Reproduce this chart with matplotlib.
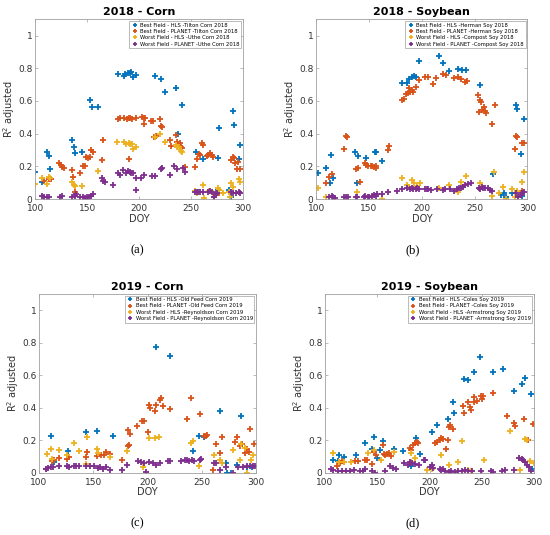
import numpy as np
import matplotlib
matplotlib.use("Agg")
import matplotlib.pyplot as plt

# MATLAB default colours
c_blue = '#0072BD'
c_orange = '#D95319'
c_yellow = '#EDB120'
c_purple = '#7E2F8E'

# ---------------- (a) 2018 - Corn ----------------
a_hls_best_doy = [100, 107, 111, 113, 114, 135, 137, 138, 145, 153, 155, 160, 180, 185, 186, 189,
                  191, 192, 194, 197, 215, 221, 225, 235, 237, 241, 255, 261, 276, 277, 276, 286,
                  288, 290, 291, 296, 297]
a_hls_best_r2 = [0.167, 0.106, 0.29, 0.265, 0.184, 0.36, 0.32, 0.28, 0.29, 0.606, 0.565, 0.565,
                 0.763, 0.753, 0.765, 0.77, 0.773, 0.778, 0.745, 0.76, 0.753, 0.735, 0.655, 0.682,
                 0.40, 0.575, 0.29, 0.243, 0.253, 0.437, 0.055, 0.053, 0.012, 0.54, 0.453, 0.243,
                 0.333]
a_pl_best_doy = [108, 113, 115, 123, 125, 126, 128, 135, 136, 138, 143, 146, 148, 149, 151, 153,
                 154, 156, 164, 165, 180, 182, 185, 188, 190, 191, 193, 190, 197, 203, 205, 206,
                 205, 211, 213, 214, 216, 220, 221, 222, 230, 231, 235, 236, 239, 240, 241, 244,
                 254, 256, 258, 259, 260, 261, 265, 266, 268, 270, 271, 272, 277, 288, 290, 291,
                 292, 294, 295, 297]
a_pl_best_r2 = [0.11, 0.122, 0.122, 0.218, 0.208, 0.198, 0.188, 0.178, 0.137, 0.04, 0.157, 0.204,
                0.204, 0.255, 0.251, 0.255, 0.298, 0.29, 0.239, 0.361, 0.49, 0.494, 0.494, 0.492,
                0.494, 0.494, 0.49, 0.245, 0.498, 0.504, 0.498, 0.498, 0.459, 0.476, 0.48, 0.378,
                0.388, 0.49, 0.449, 0.439, 0.361, 0.327, 0.392, 0.347, 0.345, 0.32, 0.314, 0.198,
                0.194, 0.243, 0.273, 0.269, 0.341, 0.33, 0.263, 0.269, 0.28, 0.269, 0.259, 0.014,
                0.035, 0.239, 0.259, 0.253, 0.218, 0.182, 0.229, 0.182]
a_hls_worst_doy = [100, 107, 111, 113, 114, 135, 137, 138, 145, 160, 179, 185, 187, 190, 191, 193,
                   194, 197, 215, 220, 225, 235, 236, 238, 240, 241, 254, 256, 261, 262, 267, 271,
                   276, 277, 281, 286, 287, 288, 290, 296, 297]
a_hls_worst_r2 = [0.09, 0.127, 0.092, 0.137, 0.131, 0.106, 0.086, 0.08, 0.08, 0.171, 0.351, 0.351,
                  0.335, 0.341, 0.335, 0.337, 0.306, 0.32, 0.382, 0.398, 0.351, 0.331, 0.32, 0.32,
                  0.296, 0.29, 0.051, 0.035, 0.086, 0.004, 0.051, 0.035, 0.065, 0.055, 0.039,
                  0.045, 0.014, 0.1, 0.076, 0.122, 0.106]
a_pl_worst_doy = [107, 108, 111, 113, 124, 126, 135, 138, 139, 143, 146, 148, 150, 152, 154, 156,
                  164, 165, 167, 175, 180, 182, 184, 187, 189, 191, 192, 194, 197, 197, 202, 205,
                  212, 215, 221, 222, 230, 234, 236, 242, 244, 254, 256, 257, 259, 261, 266, 268,
                  270, 272, 274, 275, 288, 290, 293, 296, 297]
a_pl_worst_r2 = [0.02, 0.014, 0.014, 0.01, 0.014, 0.018, 0.014, 0.02, 0.029, 0.014, 0.01, 0.004,
                 0.01, 0.014, 0.018, 0.031, 0.127, 0.112, 0.102, 0.086, 0.161, 0.147, 0.178,
                 0.157, 0.171, 0.167, 0.161, 0.157, 0.055, 0.127, 0.131, 0.147, 0.141, 0.141,
                 0.184, 0.192, 0.147, 0.204, 0.182, 0.192, 0.163, 0.04, 0.04, 0.04, 0.04, 0.04,
                 0.045, 0.049, 0.045, 0.014, 0.03, 0.035, 0.04, 0.035, 0.035, 0.04, 0.035]

# ---------------- (b) 2018 - Soybean ----------------
b_hls_best_doy = [102, 109, 113, 114, 116, 137, 139, 140, 147, 156, 157, 162, 181, 186, 188, 191,
                  193, 194, 197, 216, 220, 226, 234, 238, 242, 255, 267, 275, 278, 280, 285, 289,
                  290, 294, 295, 297]
b_hls_best_r2 = [0.16, 0.19, 0.10, 0.27, 0.13, 0.285, 0.10, 0.265, 0.253, 0.29, 0.285, 0.23,
                 0.708, 0.708, 0.735, 0.749, 0.753, 0.749, 0.847, 0.878, 0.83, 0.784, 0.794, 0.79,
                 0.79, 0.698, 0.153, 0.024, 0.035, 0.01, 0.039, 0.573, 0.553, 0.276, 0.018, 0.488]
b_pl_best_doy = [109, 112, 115, 126, 128, 129, 138, 140, 141, 146, 147, 149, 152, 153, 155, 157,
                 157, 168, 169, 181, 183, 185, 187, 188, 189, 191, 192, 194, 197, 203, 206, 211,
                 213, 220, 223, 230, 234, 237, 241, 243, 253, 254, 255, 256, 257, 259, 260, 261,
                 266, 269, 288, 289, 290, 295, 297, 295]
b_pl_best_r2 = [0.10, 0.133, 0.151, 0.308, 0.386, 0.378, 0.182, 0.188, 0.102, 0.218, 0.208, 0.204,
                0.204, 0.202, 0.198, 0.188, 0.204, 0.30, 0.327, 0.606, 0.612, 0.643, 0.651, 0.678,
                0.657, 0.667, 0.657, 0.688, 0.729, 0.749, 0.749, 0.704, 0.739, 0.765, 0.759,
                0.739, 0.745, 0.735, 0.718, 0.722, 0.637, 0.535, 0.606, 0.592, 0.545, 0.561,
                0.539, 0.524, 0.457, 0.576, 0.306, 0.388, 0.378, 0.341, 0.345, 0.051]
b_hls_worst_doy = [102, 109, 139, 162, 181, 186, 188, 191, 193, 195, 198, 216, 226, 234, 237, 242,
                   255, 266, 268, 273, 277, 280, 285, 288, 290, 295, 297]
b_hls_worst_r2 = [0.069, 0.014, 0.045, 0.0, 0.127, 0.086, 0.076, 0.116, 0.096, 0.08, 0.096, 0.069,
                  0.086, 0.041, 0.102, 0.143, 0.096, 0.018, 0.167, 0.035, 0.071, 0.0, 0.061,
                  0.014, 0.051, 0.102, 0.167]
b_pl_worst_doy = [112, 115, 116, 118, 126, 128, 130, 138, 139, 145, 146, 149, 150, 153, 155, 157,
                  158, 162, 168, 176, 181, 186, 189, 191, 192, 194, 195, 197, 203, 205, 206, 209,
                  214, 220, 222, 227, 230, 233, 235, 237, 239, 241, 244, 247, 254, 255, 257, 258,
                  260, 263, 265, 266, 289, 291, 294, 295, 297]
b_pl_worst_r2 = [0.014, 0.018, 0.01, 0.008, 0.01, 0.01, 0.014, 0.01, 0.014, 0.014, 0.018, 0.01,
                 0.014, 0.02, 0.024, 0.02, 0.029, 0.031, 0.045, 0.051, 0.063, 0.065, 0.059, 0.065,
                 0.061, 0.059, 0.065, 0.059, 0.059, 0.063, 0.059, 0.055, 0.059, 0.055, 0.061,
                 0.063, 0.051, 0.059, 0.065, 0.069, 0.076, 0.086, 0.09, 0.096, 0.069, 0.063,
                 0.071, 0.065, 0.069, 0.069, 0.055, 0.049, 0.035, 0.014, 0.024, 0.035, 0.045]

# ---------------- (c) 2019 - Corn ----------------
c_hls_best_doy = [111, 114, 127, 143, 153, 168, 208, 221, 242, 247, 252, 267, 272, 273, 277, 282,
                  286, 291, 296]
c_hls_best_r2 = [0.228, 0.068, 0.134, 0.249, 0.259, 0.228, 0.774, 0.716, 0.134, 0.228, 0.218,
                 0.38, 0.062, 0.002, 0.002, 0.047, 0.352, 0.037, 0.037]
c_pl_best_doy = [106, 112, 114, 118, 126, 128, 143, 144, 153, 157, 160, 162, 165, 176, 182, 184,
                 182, 183, 190, 195, 197, 200, 201, 202, 207, 208, 211, 212, 214, 221, 236, 240,
                 248, 252, 254, 255, 263, 260, 267, 268, 280, 282, 285, 287, 290, 291, 293, 294,
                 298]
c_pl_best_r2 = [0.023, 0.072, 0.082, 0.093, 0.084, 0.099, 0.099, 0.126, 0.103, 0.109, 0.109,
                0.126, 0.119, 0.082, 0.263, 0.237, 0.165, 0.171, 0.288, 0.321, 0.319, 0.253,
                0.418, 0.397, 0.383, 0.418, 0.449, 0.459, 0.412, 0.393, 0.331, 0.459, 0.36,
                0.226, 0.228, 0.233, 0.177, 0.021, 0.123, 0.222, 0.191, 0.222, 0.167, 0.177,
                0.123, 0.144, 0.13, 0.267, 0.175]
c_hls_worst_doy = [107, 111, 112, 118, 126, 132, 137, 144, 143, 153, 154, 165, 181, 196, 201, 207,
                   210, 240, 242, 247, 261, 267, 268, 279, 285, 286, 290, 291, 295, 297]
c_hls_worst_r2 = [0.115, 0.15, 0.088, 0.14, 0.113, 0.181, 0.136, 0.218, 0.054, 0.15, 0.123, 0.095,
                  0.136, 0.037, 0.216, 0.212, 0.218, 0.185, 0.198, 0.041, 0.113, 0.078, 0.062,
                  0.14, 0.082, 0.177, 0.154, 0.002, 0.078, 0.109]
c_pl_worst_doy = [106, 108, 111, 113, 118, 126, 128, 132, 134, 137, 143, 147, 151, 154, 156, 159,
                  162, 165, 176, 181, 191, 194, 197, 198, 201, 205, 208, 211, 219, 221, 231, 234,
                  236, 238, 241, 243, 248, 249, 261, 263, 267, 272, 279, 283, 288, 291, 294, 297,
                  299]
c_pl_worst_r2 = [0.023, 0.031, 0.035, 0.037, 0.043, 0.041, 0.037, 0.041, 0.043, 0.043, 0.043,
                 0.041, 0.043, 0.033, 0.037, 0.027, 0.037, 0.016, 0.021, 0.047, 0.072, 0.068,
                 0.058, 0.006, 0.068, 0.058, 0.047, 0.058, 0.072, 0.072, 0.072, 0.082, 0.078,
                 0.074, 0.082, 0.074, 0.082, 0.088, 0.058, 0.058, 0.016, 0.037, 0.002, 0.037,
                 0.037, 0.041, 0.041, 0.041, 0.041]

# ---------------- (d) 2019 - Soybean ----------------
d_hls_best_doy = [108, 112, 113, 118, 130, 138, 145, 147, 150, 153, 155, 166, 175, 182, 187, 191,
                  202, 207, 218, 222, 223, 233, 237, 243, 248, 261, 270, 281, 288, 291, 297, 298]
d_hls_best_r2 = [0.078, 0.074, 0.113, 0.098, 0.113, 0.184, 0.148, 0.219, 0.092, 0.143, 0.195,
                 0.15, 0.137, 0.045, 0.215, 0.117, 0.252, 0.297, 0.328, 0.436, 0.369, 0.578,
                 0.57, 0.621, 0.711, 0.619, 0.635, 0.502, 0.543, 0.58, 0.486, 0.027]
d_pl_best_doy = [111, 114, 116, 118, 129, 132, 138, 140, 145, 147, 149, 155, 156, 157, 159, 161,
                 163, 181, 182, 184, 186, 188, 189, 205, 207, 210, 211, 213, 216, 218, 219, 220,
                 222, 232, 233, 237, 239, 240, 243, 243, 245, 249, 250, 251, 261, 274, 281, 282,
                 290, 294, 299]
d_pl_best_r2 = [0.041, 0.061, 0.072, 0.068, 0.072, 0.072, 0.078, 0.078, 0.057, 0.127, 0.113,
                0.174, 0.117, 0.113, 0.117, 0.123, 0.102, 0.154, 0.143, 0.17, 0.184, 0.189,
                0.184, 0.184, 0.189, 0.205, 0.215, 0.209, 0.15, 0.201, 0.281, 0.293, 0.27, 0.41,
                0.365, 0.436, 0.406, 0.389, 0.467, 0.434, 0.441, 0.471, 0.455, 0.475, 0.488,
                0.348, 0.307, 0.287, 0.334, 0.201, 0.301]
d_hls_worst_doy = [108, 113, 118, 125, 141, 147, 154, 166, 182, 182, 186, 198, 202, 211, 219, 227,
                   231, 237, 240, 252, 277, 286, 287, 291, 293, 296, 300]
d_hls_worst_r2 = [0.123, 0.066, 0.068, 0.068, 0.123, 0.143, 0.082, 0.129, 0.123, 0.066, 0.092,
                  0.02, 0.027, 0.113, 0.047, 0.068, 0.195, 0.02, 0.014, 0.082, 0.256, 0.092,
                  0.02, 0.211, 0.205, 0.072, 0.061]
d_pl_worst_doy = [106, 108, 112, 116, 120, 124, 128, 133, 136, 138, 145, 148, 157, 162, 165, 168,
                  176, 179, 181, 183, 186, 190, 195, 196, 200, 202, 203, 210, 211, 213, 215, 219,
                  221, 224, 227, 231, 234, 237, 241, 249, 259, 261, 269, 272, 281, 286, 288, 289,
                  291, 293, 295, 297]
d_pl_worst_r2 = [0.027, 0.02, 0.01, 0.01, 0.01, 0.01, 0.02, 0.01, 0.01, 0.027, 0.01, 0.0, 0.01,
                 0.041, 0.031, 0.025, 0.061, 0.051, 0.066, 0.061, 0.057, 0.051, 0.082, 0.078,
                 0.037, 0.051, 0.031, 0.027, 0.016, 0.027, 0.01, 0.006, 0.01, 0.006, 0.014, 0.01,
                 0.02, 0.01, 0.01, 0.01, 0.01, 0.006, 0.01, 0.02, 0.02, 0.092, 0.086, 0.078,
                 0.066, 0.051, 0.037, 0.01]

panels = [
    dict(title='2018 - Corn', tag='(a)', rect=[0.064, 0.628, 0.378, 0.336],
         series=[(a_hls_best_doy, a_hls_best_r2, 'Best Field - HLS -Tilton Corn 2018'),
                 (a_pl_best_doy, a_pl_best_r2, 'Best Field - PLANET -Tilton Corn 2018'),
                 (a_hls_worst_doy, a_hls_worst_r2, 'Worst Field - HLS -Uthe Corn 2018'),
                 (a_pl_worst_doy, a_pl_worst_r2, 'Worst Field - PLANET -Uthe Corn 2018')]),
    dict(title='2018 - Soybean', tag='(b)', rect=[0.575, 0.628, 0.384, 0.336],
         series=[(b_hls_best_doy, b_hls_best_r2, 'Best Field - HLS -Herman Soy 2018'),
                 (b_pl_best_doy, b_pl_best_r2, 'Best Field - PLANET -Herman Soy 2018'),
                 (b_hls_worst_doy, b_hls_worst_r2, 'Worst Field - HLS -Compost Soy 2018'),
                 (b_pl_worst_doy, b_pl_worst_r2, 'Worst Field - PLANET -Compost Soy 2018')]),
    dict(title='2019 - Corn', tag='(c)', rect=[0.071, 0.116, 0.395, 0.335],
         series=[(c_hls_best_doy, c_hls_best_r2, 'Best Field - HLS -Old Feed Corn 2019'),
                 (c_pl_best_doy, c_pl_best_r2, 'Best Field - PLANET -Old Feed Corn 2019'),
                 (c_hls_worst_doy, c_hls_worst_r2, 'Worst Field - HLS -Reynoldson Corn 2019'),
                 (c_pl_worst_doy, c_pl_worst_r2, 'Worst Field - PLANET -Reynoldson Corn 2019')]),
    dict(title='2019 - Soybean', tag='(d)', rect=[0.591, 0.116, 0.38, 0.335],
         series=[(d_hls_best_doy, d_hls_best_r2, 'Best Field - HLS -Coles Soy 2019'),
                 (d_pl_best_doy, d_pl_best_r2, 'Best Field - PLANET -Coles Soy 2019'),
                 (d_hls_worst_doy, d_hls_worst_r2, 'Worst Field - HLS -Armstrong Soy 2019'),
                 (d_pl_worst_doy, d_pl_worst_r2, 'Worst Field - PLANET -Armstrong Soy 2019')]),
]
colors = [c_blue, c_orange, c_yellow, c_purple]
tag_x = [0.25, 0.75, 0.25, 0.75]

fig = plt.figure(figsize=(5.5, 5.35), dpi=100)
for i, p in enumerate(panels):
    ax = fig.add_axes(p['rect'])
    for (xs, ys, lab), col in zip(p['series'], colors):
        ax.plot(xs, ys, '+', color=col, ms=4, mew=1.3, label=lab)
    ax.set_xlim(100, 300)
    ax.set_ylim(0, 1.1)
    ax.set_xticks([100, 150, 200, 250, 300])
    ax.set_yticks([0, 0.2, 0.4, 0.6, 0.8, 1])
    ax.set_yticklabels(['0', '0.2', '0.4', '0.6', '0.8', '1'])
    ax.tick_params(direction='in', length=2.5, width=0.5, labelsize=6.5,
                   colors='#a0a0a0', labelcolor='#333333', top=True, right=True, pad=2)
    ax.tick_params(axis='x', pad=3.5)
    for s in ax.spines.values():
        s.set_color('#a0a0a0')
        s.set_linewidth(0.6)
    ax.set_title(p['title'], fontsize=8, fontweight='bold', pad=3)
    ax.set_xlabel('DOY', fontsize=7, color='#333333', labelpad=0.5)
    ax.set_ylabel('R$^2$ adjusted', fontsize=7, color='#333333', labelpad=1)
    leg = ax.legend(loc='upper right', fontsize=3.8, frameon=True, fancybox=False,
                    edgecolor='#a0a0a0', framealpha=1, borderaxespad=0.35,
                    handletextpad=0.3, labelspacing=0.25, borderpad=0.3,
                    handlelength=1.5, markerscale=0.7)
    leg.get_frame().set_linewidth(0.5)
    fig.text(tag_x[i], p['rect'][1] - 0.095, p['tag'], ha='center', va='center',
             fontsize=9, family='Liberation Serif')

fig.savefig('out.png', dpi=100)
